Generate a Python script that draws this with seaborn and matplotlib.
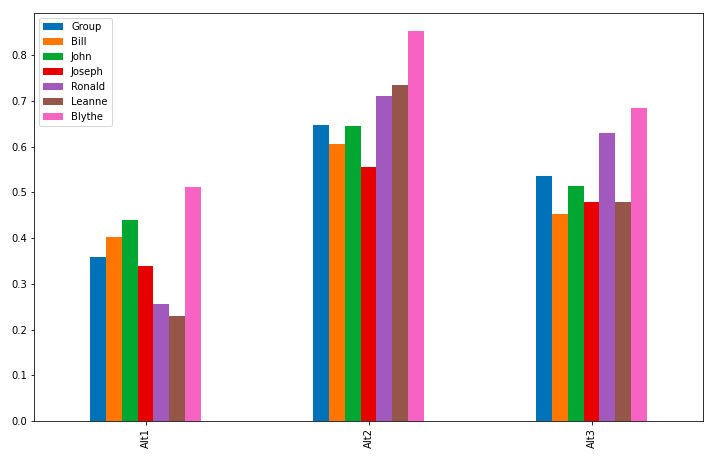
import matplotlib
matplotlib.use("Agg")
import matplotlib.pyplot as plt
import seaborn as sns
import pandas as pd

categories = ["Alt1", "Alt2", "Alt3"]
people = ["Group", "Bill", "John", "Joseph", "Ronald", "Leanne", "Blythe"]
group = [0.358, 0.648, 0.536]
bill = [0.402, 0.607, 0.453]
john = [0.440, 0.646, 0.514]
joseph = [0.338, 0.556, 0.479]
ronald = [0.257, 0.710, 0.631]
leanne = [0.229, 0.736, 0.479]
blythe = [0.512, 0.853, 0.684]
colors = ["#0072B9", "#FF7700", "#00A832", "#E80000", "#A259BE", "#955649", "#F763C2"]

series = [group, bill, john, joseph, ronald, leanne, blythe]
rows = []
for name, vals in zip(people, series):
    for cat, v in zip(categories, vals):
        rows.append({"alt": cat, "person": name, "value": v})
df = pd.DataFrame(rows)

fig = plt.figure(figsize=(724 / 72, 462 / 72), dpi=72)
ax = fig.add_axes([34 / 724, 1 - 421 / 462, (703 - 34) / 724, (421 - 13) / 462])
sns.barplot(data=df, x="alt", y="value", hue="person", hue_order=people,
            order=categories, palette=colors, width=0.5, gap=0,
            saturation=1, ax=ax, errorbar=None)
ax.set_xlim(-0.5, 2.5)
ax.set_ylim(0, 0.8925)
ax.set_xlabel("")
ax.set_ylabel("")
ax.tick_params(axis="x", labelrotation=90, labelsize=10)
ax.tick_params(axis="y", labelsize=10)
ax.legend(loc="upper left", fontsize=10, title=None)
fig.savefig("out.png", dpi=72)
